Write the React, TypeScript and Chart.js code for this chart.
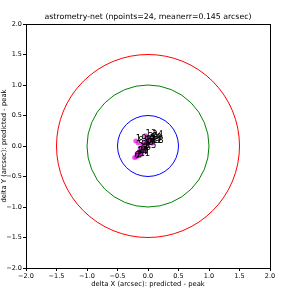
import React, { useEffect, useRef } from "react";
import { Chart, registerables } from "chart.js";

Chart.register(...registerables);

const titleText = "astrometry-net (npoints=24, meanerr=0.145 arcsec)";
const xAxisTitle = "delta X (arcsec): predicted - peak";
const yAxisTitle = "delta Y (arcsec): predicted - peak";
const tickValues = [-2.0, -1.5, -1.0, -0.5, 0.0, 0.5, 1.0, 1.5, 2.0];
const circleRadii = [0.5, 1.0, 1.5];
const circleColors = ["#0000ff", "#008000", "#ff0000"];
const pointLabels = ["1","2","3","4","5","6","7","8","9","10","11","12","13","14","15","16","17","18","19","20","21","22","23","24"];
const dx = [-0.15,-0.19,-0.08,-0.10,-0.02,-0.22,-0.06,-0.16,0.02,0.05,-0.14,0.06,-0.04,-0.18,-0.04,-0.13,-0.05,0.08,-0.20,-0.17,0.00,-0.09,0.03,0.07];
const dy = [-0.12,-0.18,-0.02,-0.13,0.05,-0.19,0.00,0.05,0.06,0.10,-0.16,0.05,0.17,-0.13,-0.04,-0.06,0.05,0.05,0.08,-0.12,0.11,0.02,0.08,0.15];

const FONT = "'DejaVu Sans', sans-serif";

const fmt = (v: number) => (v < 0 ? "\u2212" + Math.abs(v).toFixed(1) : v.toFixed(1));

const overlay = {
  id: "overlay",
  afterDatasetsDraw(chart: any) {
    const { ctx, chartArea, scales } = chart;
    const xs = scales.x, ys = scales.y;
    ctx.save();
    ctx.beginPath();
    ctx.rect(chartArea.left, chartArea.top, chartArea.right - chartArea.left, chartArea.bottom - chartArea.top);
    ctx.clip();
    const cx = xs.getPixelForValue(0), cy = ys.getPixelForValue(0);
    circleRadii.forEach((r, i) => {
      const rp = xs.getPixelForValue(r) - cx;
      ctx.beginPath();
      ctx.strokeStyle = circleColors[i];
      ctx.lineWidth = 1;
      ctx.arc(cx, cy, rp, 0, Math.PI * 2);
      ctx.stroke();
    });
    ctx.fillStyle = "#000";
    ctx.font = `8.5px ${FONT}`;
    ctx.textAlign = "left";
    ctx.textBaseline = "alphabetic";
    pointLabels.forEach((lab, i) => {
      ctx.fillText(lab, xs.getPixelForValue(dx[i]), ys.getPixelForValue(dy[i]));
    });
    ctx.restore();
    ctx.save();
    ctx.strokeStyle = "#000";
    ctx.lineWidth = 1;
    ctx.strokeRect(Math.round(chartArea.left) + 0.5, Math.round(chartArea.top) + 0.5,
      Math.round(chartArea.right - chartArea.left), Math.round(chartArea.bottom - chartArea.top));
    ctx.fillStyle = "#000";
    ctx.font = `7.8px ${FONT}`;
    ctx.textAlign = "center";
    ctx.textBaseline = "bottom";
    ctx.fillText(titleText, (chartArea.left + chartArea.right) / 2, chartArea.top - 3);
    ctx.restore();
  },
};

export default function App() {
  const ref = useRef<HTMLCanvasElement>(null);
  useEffect(() => {
    if (!ref.current) return;
    const data = dx.map((x, i) => ({ x, y: dy[i] }));
    const chart = new Chart(ref.current, {
      type: "scatter",
      data: {
        datasets: [
          {
            data,
            backgroundColor: "rgba(220,0,220,0.65)",
            borderWidth: 0,
            pointRadius: 2.5,
          },
        ],
      },
      options: {
        animation: false,
        responsive: false,
        maintainAspectRatio: false,
        layout: { padding: { top: 24, right: 17, left: 0, bottom: 15 } },
        plugins: { legend: { display: false }, tooltip: { enabled: false }, title: { display: false } },
        scales: {
          x: {
            type: "linear",
            min: -2,
            max: 2,
            afterBuildTicks: (s: any) => { s.ticks = tickValues.map((v) => ({ value: v })); },
            afterFit: (s: any) => { s.height = 20; },
            grid: { drawOnChartArea: false, drawTicks: true, tickLength: 3, color: "#000" },
            border: { color: "#000" },
            ticks: { font: { family: FONT, size: 6.5 }, color: "#000", padding: 1, maxRotation: 0, autoSkip: false, callback: (v: any) => fmt(Number(v)) },
            title: { display: true, text: xAxisTitle, font: { family: FONT, size: 6.8 }, color: "#000", padding: { top: 0, bottom: 0 } },
          },
          y: {
            type: "linear",
            min: -2,
            max: 2,
            afterBuildTicks: (s: any) => { s.ticks = tickValues.map((v) => ({ value: v })); },
            afterFit: (s: any) => { s.width = 26; },
            grid: { drawOnChartArea: false, drawTicks: true, tickLength: 3, color: "#000" },
            border: { color: "#000" },
            ticks: { font: { family: FONT, size: 6.5 }, color: "#000", padding: 1, autoSkip: false, callback: (v: any) => fmt(Number(v)) },
            title: { display: true, text: yAxisTitle, font: { family: FONT, size: 6.8 }, color: "#000", padding: { top: 0, bottom: 0 } },
          },
        },
      },
      plugins: [overlay],
    });
    return () => chart.destroy();
  }, []);
  return (
    <div style={{ position: "fixed", left: 0, top: 0, width: 287, height: 303, background: "#fff" }}>
      <canvas ref={ref} width={287} height={303} style={{ width: 287, height: 303, display: "block" }} />
    </div>
  );
}
